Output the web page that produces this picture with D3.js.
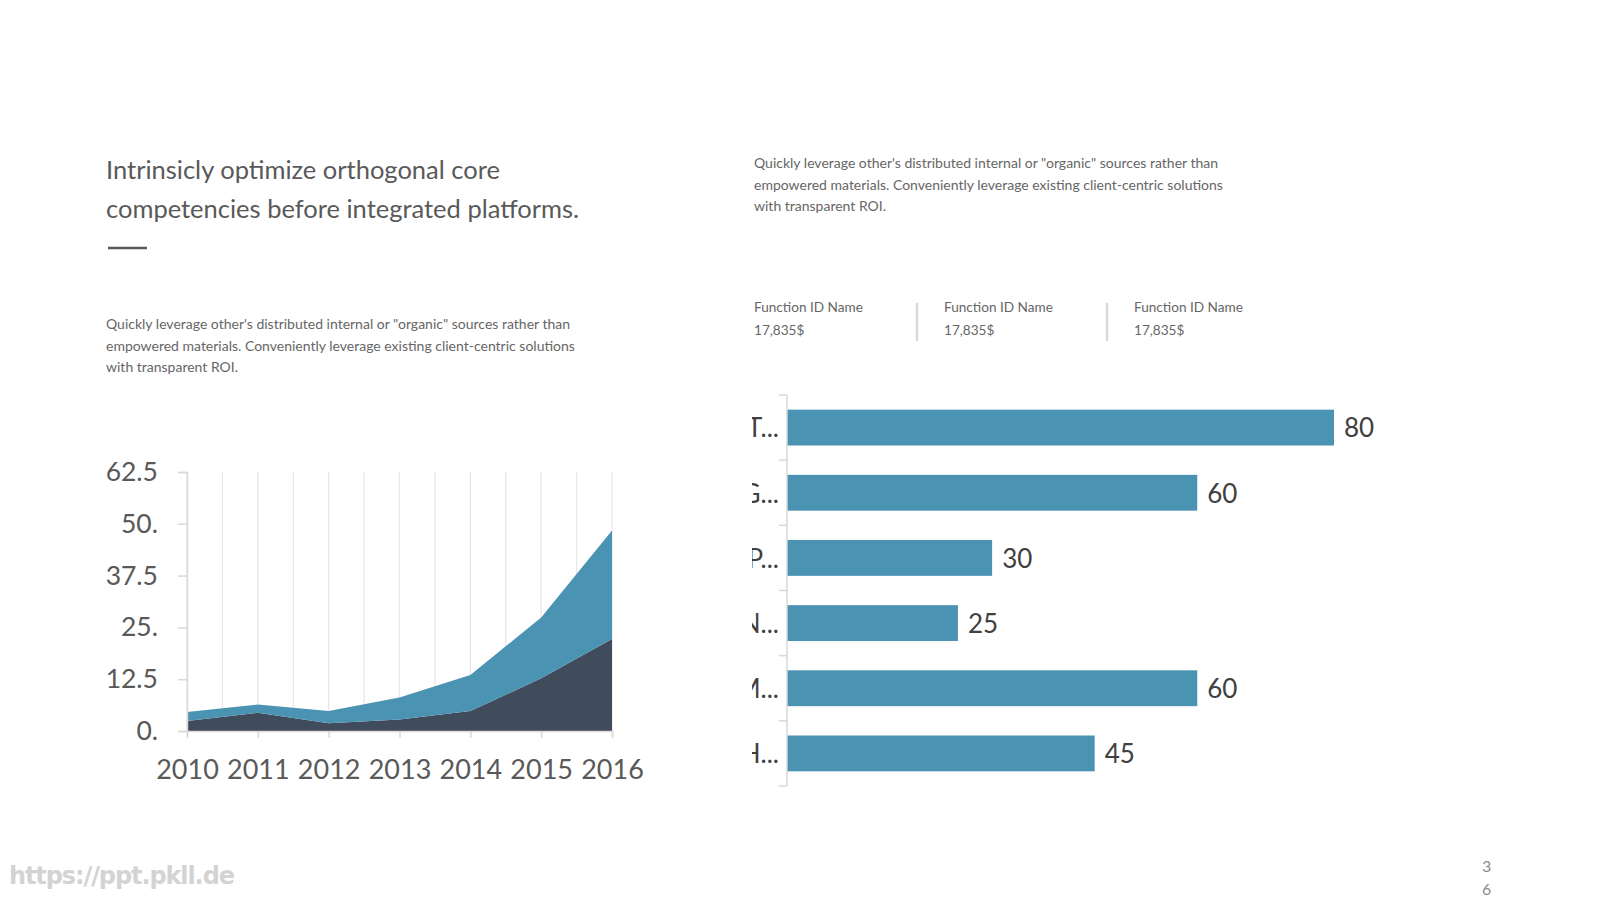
<!DOCTYPE html>
<html><head><meta charset="utf-8">
<script src="https://cdn.jsdelivr.net/npm/d3@7"></script>
<style>
html,body{margin:0;padding:0;background:#fff;}
svg{display:block;font-family:Lato,"Open Sans",sans-serif;}
</style></head>
<body>
<svg id="c" width="1600" height="900"></svg>
<script>
// ---- data ----
const years = [2010, 2011, 2012, 2013, 2014, 2015, 2016];
const seriesDark = [2.4, 4.4, 1.9, 2.8, 4.8, 12.7, 22.2];
const seriesLight = [2.2, 2.0, 2.9, 5.3, 8.7, 14.7, 26.2];
const yTickValues = [0, 12.5, 25, 37.5, 50, 62.5];
const yTickLabels = ["0.", "12.5", "25.", "37.5", "50.", "62.5"];

const barCategories = ["T...", "G...", "P...", "N...", "M...", "H..."];
const barValues = [80, 60, 30, 25, 60, 45];

const titleLines = ["Intrinsicly optimize orthogonal core", "competencies before integrated platforms."];
const paraLines = ["Quickly leverage other's distributed internal or \"organic\" sources rather than",
  "empowered materials. Conveniently leverage existing client-centric solutions",
  "with transparent ROI."];
const funcLabels = ["Function ID Name", "Function ID Name", "Function ID Name"];
const funcValues = ["17,835$", "17,835$", "17,835$"];

const svg = d3.select("#c");
const textCol = "#595959";

// ---- title ----
svg.append("g").selectAll("text").data(titleLines).join("text")
  .attr("x", 106).attr("y", (d, i) => 179 + i * 39)
  .attr("font-size", 25.5).attr("fill", textCol).text(d => d);
svg.append("line").attr("x1", 108).attr("x2", 147).attr("y1", 248).attr("y2", 248)
  .attr("stroke", "#595959").attr("stroke-width", 2.5);

// ---- paragraphs ----
function para(x, y0) {
  svg.append("g").selectAll("text").data(paraLines).join("text")
    .attr("x", x).attr("y", (d, i) => y0 + i * 21.5)
    .attr("font-size", 14).attr("fill", "#666").text(d => d);
}
para(106, 329);
para(754, 168);

// ---- function ID items ----
const fx = [754, 944, 1134];
const fg = svg.append("g");
funcLabels.forEach((t, i) => {
  fg.append("text").attr("x", fx[i]).attr("y", 312).attr("font-size", 13.6).attr("fill", "#666").text(t);
  fg.append("text").attr("x", fx[i]).attr("y", 335).attr("font-size", 13.6).attr("fill", "#666").text(funcValues[i]);
});
[917, 1107].forEach(x => fg.append("line").attr("x1", x).attr("x2", x).attr("y1", 303).attr("y2", 341)
  .attr("stroke", "#d9d9d9").attr("stroke-width", 2.5));

// ---- area chart ----
const xA = d3.scaleLinear().domain([2010, 2016]).range([187, 612]);
const yA = d3.scaleLinear().domain([0, 62.5]).range([731, 472]);
const ag = svg.append("g");
ag.append("g").selectAll("line").data(d3.range(2010, 2016.01, 0.5)).join("line")
  .attr("x1", d => xA(d)).attr("x2", d => xA(d)).attr("y1", yA(62.5)).attr("y2", yA(0))
  .attr("stroke", "#e6e6e6").attr("stroke-width", 1.2);

const stacked = years.map((y, i) => ({year: y, dark: seriesDark[i], light: seriesLight[i]}));
const stack = d3.stack().keys(["dark", "light"])(stacked);
const areaGen = d3.area().x(d => xA(d.data.year)).y0(d => yA(d[0])).y1(d => yA(d[1]));
const areaColors = {dark: "#404b5b", light: "#4a93b3"};
ag.append("g").selectAll("path").data(stack).join("path")
  .attr("d", areaGen).attr("fill", d => areaColors[d.key]);

const yAxis = d3.axisLeft(yA).tickValues(yTickValues).tickFormat((d, i) => yTickLabels[i]).tickSize(9).tickPadding(20);
const yg = ag.append("g").attr("transform", `translate(${xA(2010)},0)`).call(yAxis);
yg.select(".domain").attr("stroke", "#d9d9d9").attr("stroke-width", 1.5);
yg.selectAll(".tick line").attr("stroke", "#d9d9d9").attr("stroke-width", 1.5);
yg.selectAll(".tick text").attr("font-size", 26.5).attr("fill", textCol).attr("font-family", "Lato");

const xAxis = d3.axisBottom(xA).tickValues(years).tickFormat(d3.format("d")).tickSize(7).tickPadding(22);
const xg = ag.append("g").attr("transform", `translate(0,${yA(0)})`).call(xAxis);
xg.select(".domain").attr("stroke", "#d9d9d9").attr("stroke-width", 1.5);
xg.selectAll(".tick line").attr("stroke", "#d9d9d9").attr("stroke-width", 1.5);
xg.selectAll(".tick text").attr("font-size", 27).attr("fill", textCol).attr("font-family", "Lato");

// ---- bar chart ----
const yB = d3.scaleBand().domain(barCategories).range([395, 786]).paddingInner(0.45).paddingOuter(0.225);
const xB = d3.scaleLinear().domain([0, 80]).range([787, 1334]);
const bg = svg.append("g");
bg.append("defs").append("clipPath").attr("id", "lblclip")
  .append("rect").attr("x", 752).attr("y", 380).attr("width", 40).attr("height", 420);
bg.append("g").selectAll("rect").data(barValues).join("rect")
  .attr("x", xB(0)).attr("y", (d, i) => yB(barCategories[i]))
  .attr("width", d => xB(d) - xB(0)).attr("height", yB.bandwidth())
  .attr("fill", "#4a93b3");
bg.append("g").selectAll("text").data(barValues).join("text")
  .attr("x", d => xB(d) + 10).attr("y", (d, i) => yB(barCategories[i]) + yB.bandwidth() / 2)
  .attr("dy", "0.38em").attr("font-size", 26).attr("fill", "#404040").text(d => d);
bg.append("line").attr("x1", 787).attr("x2", 787).attr("y1", 395).attr("y2", 786)
  .attr("stroke", "#d9d9d9").attr("stroke-width", 1.5);
bg.append("g").selectAll("line").data(d3.range(barCategories.length + 1)).join("line")
  .attr("x1", 779).attr("x2", 787)
  .attr("y1", i => 395 + i * (391 / barCategories.length)).attr("y2", i => 395 + i * (391 / barCategories.length))
  .attr("stroke", "#d9d9d9").attr("stroke-width", 1.5);
bg.append("g").attr("clip-path", "url(#lblclip)").selectAll("text").data(barCategories).join("text")
  .attr("x", 779).attr("y", d => yB(d) + yB.bandwidth() / 2).attr("dy", "0.38em")
  .attr("text-anchor", "end").attr("font-size", 26).attr("fill", "#404040").text(d => d);

// ---- footer ----
svg.append("text").attr("x", 9).attr("y", 884).attr("font-size", 24).attr("font-weight", "bold")
  .attr("font-family", "DejaVu Sans").attr("fill", "#d3d3d3").attr("textLength", 226).text("https://ppt.pkll.de");
svg.append("text").attr("x", 1482).attr("y", 872).attr("font-size", 16).attr("fill", "#8c8c8c").text("3");
svg.append("text").attr("x", 1482).attr("y", 895).attr("font-size", 16).attr("fill", "#8c8c8c").text("6");
</script>
</body></html>
